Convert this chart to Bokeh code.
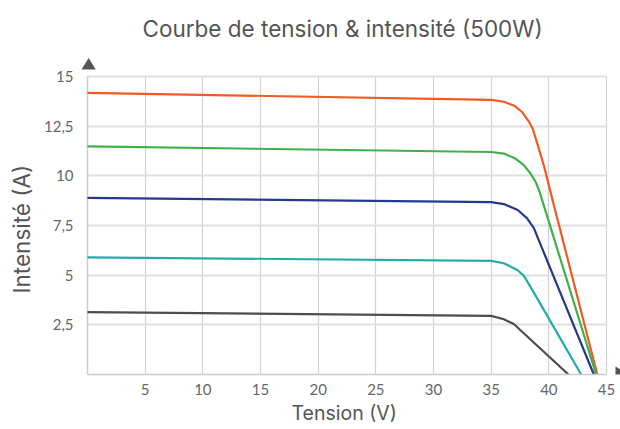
from bokeh.plotting import figure
from bokeh.models import Range1d, FixedTicker, Grid, Title
from bokeh.embed import file_html
from bokeh.resources import INLINE

# ---- data ----
v_orange = [0, 35, 36.1, 37.0, 37.7, 38.3, 38.6, 39.0, 39.6, 40.1, 44.2]
i_orange = [14.18, 13.82, 13.73, 13.53, 13.2, 12.7, 12.37, 11.62, 10.45, 9.28, 0]

v_green = [0, 35, 36.1, 37.1, 37.85, 38.4, 38.85, 39.15, 44.1]
i_green = [11.48, 11.2, 11.12, 10.87, 10.53, 10.12, 9.7, 9.28, 0]

v_blue = [0, 35, 36.1, 37.3, 38.1, 38.7, 39.4, 43.9]
i_blue = [8.89, 8.68, 8.58, 8.28, 7.87, 7.37, 6.37, 0]

v_teal = [0, 35, 36.1, 37.3, 37.85, 38.7, 42.8]
i_teal = [5.9, 5.72, 5.6, 5.25, 4.95, 4.12, 0]

v_gray = [0, 35, 36.1, 37.0, 37.45, 41.7]
i_gray = [3.14, 2.95, 2.78, 2.53, 2.28, 0]

series = [
    (v_orange, i_orange, "#f15a24"),
    (v_green, i_green, "#3fb14b"),
    (v_blue, i_blue, "#243a8c"),
    (v_teal, i_teal, "#24ada5"),
    (v_gray, i_gray, "#4d4d4d"),
]

x_ticks = [5, 10, 15, 20, 25, 30, 35, 40, 45]
y_ticks = [2.5, 5, 7.5, 10, 12.5, 15]
y_tick_labels = {2.5: "2,5", 5: "5", 7.5: "7,5", 10: "10", 12.5: "12,5", 15: "15"}

title_text = "Courbe de tension & intensité (500W)"
x_label = "Tension (V)"
y_label = "Intensité (A)"

FONT = "Lato"
BIG = "Inter"
W, H = 620, 429
# pixel design: x=0 at 86px, x=45 at 606px ; y=0 at 374px, y=15 at 76px
PX_X0, PX_X45, PX_Y0, PX_Y15 = 86.0, 606.0, 374.0, 76.0
L, R, T, B = 78, 0, 50, 55
kx = (PX_X45 - PX_X0) / 45.0
ky = (PX_Y0 - PX_Y15) / 15.0
x_lo = -(PX_X0 - L) / kx
x_hi = 45 + (W - R - PX_X45) / kx
y_lo = 0.0
y_hi = 15 + (PX_Y15 - T) / ky

def dx(px):
    return (px - PX_X0) / kx
def dy(py):
    return (PX_Y0 - py) / ky

p = figure(width=W, height=H, output_backend="svg", toolbar_location=None,
           x_range=Range1d(x_lo, x_hi), y_range=Range1d(y_lo, y_hi),
           min_border_left=L, min_border_right=R, min_border_top=T, min_border_bottom=B)
p.outline_line_color = None
p.background_fill_color = "white"
p.border_fill_color = "white"
p.xgrid.visible = False
p.ygrid.visible = False

p.add_layout(Title(text=title_text, align="left", text_font=BIG,
                   text_font_size="22.5px", text_font_style="normal",
                   text_color="#555555", offset=63, standoff=18), "above")

for ax in (p.xaxis[0], p.yaxis[0]):
    ax.major_tick_line_color = None
    ax.minor_tick_line_color = None
    ax.major_label_text_font = FONT
    ax.major_label_text_font_size = "15px"
    ax.major_label_text_color = "#666666"

p.xaxis.axis_line_color = "#cccccc"
p.xaxis.axis_line_width = 1.5
p.xaxis.bounds = (0, 45)
p.yaxis.axis_line_color = None
p.yaxis.bounds = (0, 15)
p.xaxis.major_label_standoff = 3
p.yaxis.major_label_standoff = 0

p.xaxis.ticker = FixedTicker(ticks=x_ticks)
p.yaxis.ticker = FixedTicker(ticks=y_ticks)
p.yaxis.major_label_overrides = y_tick_labels

p.add_layout(Title(text=x_label, align="left", text_font=BIG,
                   text_font_size="19.5px", text_font_style="normal",
                   text_color="#555555", offset=212, standoff=2), "below")
p.add_layout(Title(text=y_label, align="left", text_font=BIG,
                   text_font_size="22.5px", text_font_style="normal",
                   text_color="#555555", offset=81, standoff=11), "left")

vgrid = Grid(dimension=0, ticker=FixedTicker(ticks=x_ticks), cross_bounds=(0, 15),
             grid_line_color="#d2d2d2", grid_line_width=1.2)
hgrid = Grid(dimension=1, ticker=FixedTicker(ticks=y_ticks), cross_bounds=(0, 45),
             grid_line_color="#e0e0e0", grid_line_width=1.8)
yline = Grid(dimension=0, ticker=FixedTicker(ticks=[0]), cross_bounds=(0, 15),
             grid_line_color="#cccccc", grid_line_width=1.5)
p.add_layout(vgrid)
p.add_layout(hgrid)
p.add_layout(yline)

for xs, ys, c in series:
    p.line(xs, ys, line_color=c, line_width=2.2)

# arrow heads at the axis ends
p.patch([dx(80), dx(94.3), dx(87.2)], [dy(69), dy(69), dy(57.5)],
        fill_color="#555555", line_color=None)
p.patch([dx(615), dx(615), dx(627)], [dy(366), dy(381), dy(373.5)],
        fill_color="#555555", line_color=None)

open("out.html", "w").write(file_html(p, INLINE))
